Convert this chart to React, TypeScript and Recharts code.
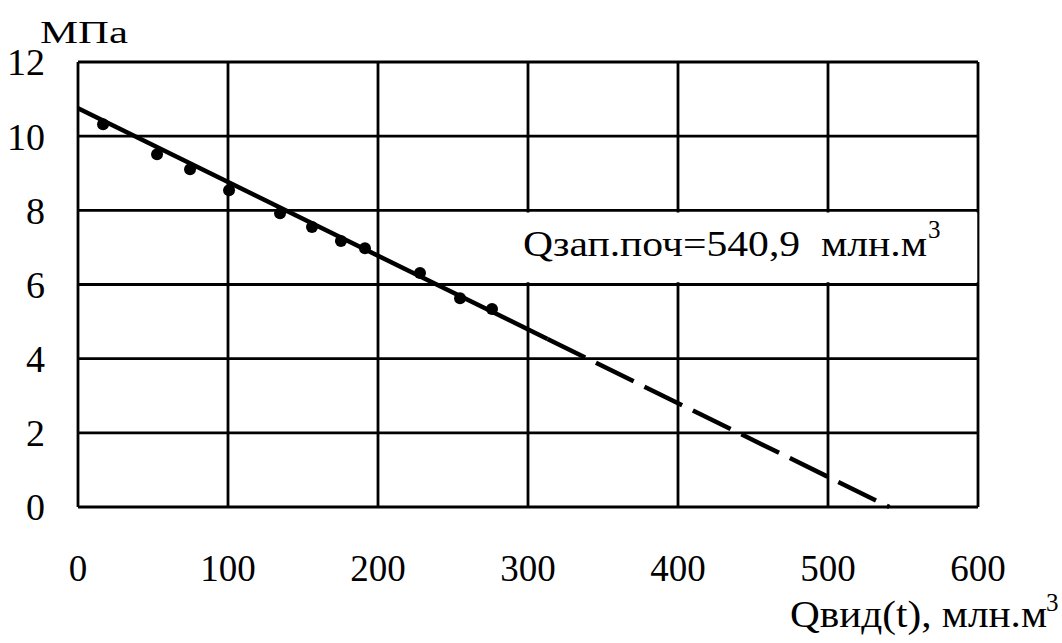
import { CartesianGrid, ComposedChart, Line, ReferenceArea, Scatter, XAxis, YAxis } from "recharts";

// Measured reservoir pressure vs cumulative gas production
const qMeasured = [16.7, 52.7, 74.7, 100.7, 134.7, 156, 175.3, 191.3, 228, 254.7, 276];
const pMeasured = [10.32, 9.51, 9.11, 8.54, 7.92, 7.55, 7.17, 6.98, 6.31, 5.63, 5.34];

// Fitted trend: solid over the measured range, dashed extrapolation to p = 0
const qFitSolid = [0, 313];
const pFitSolid = [10.75, 4.53];
const qFitDashed = [313, 540.9];
const pFitDashed = [4.53, 0];

const xTicks = [0, 100, 200, 300, 400, 500, 600];
const yTicks = [0, 2, 4, 6, 8, 10, 12];

const measured = qMeasured.map((q, i) => ({ q, p: pMeasured[i] }));
const fitSolid = qFitSolid.map((q, i) => ({ q, p: pFitSolid[i] }));
const fitDashed = qFitDashed.map((q, i) => ({ q, p: pFitDashed[i] }));

const FONT = '"Liberation Serif", "Times New Roman", serif';

export default function App() {
  return (
    <div style={{ position: "absolute", left: 0, top: 0, width: 1062, height: 643, background: "#fff" }}>
      <ComposedChart width={1062} height={643} margin={{ top: 62, right: 84, left: 0, bottom: 0 }}>
        <CartesianGrid stroke="#000" strokeWidth={2.8} />
        <XAxis
          dataKey="q"
          type="number"
          domain={[0, 600]}
          ticks={xTicks}
          height={136}
          axisLine={false}
          tickLine={false}
          tickSize={0}
          tickMargin={48}
          tick={{ fill: "#000", fontSize: 37, fontFamily: FONT }}
        />
        <YAxis
          dataKey="p"
          type="number"
          domain={[0, 12]}
          ticks={yTicks}
          width={78}
          axisLine={false}
          tickLine={false}
          tickSize={0}
          tickMargin={33}
          tick={{ fill: "#000", fontSize: 38, fontFamily: FONT }}
        />
        {/* blank panel behind the reserve estimate */}
        <ReferenceArea x1={250} x2={599.5} y1={6.06} y2={7.94} fill="#fff" fillOpacity={1} stroke="none" />
        <Line
          data={fitSolid}
          dataKey="p"
          stroke="#000"
          strokeWidth={4.5}
          dot={false}
          activeDot={false}
          isAnimationActive={false}
        />
        <Line
          data={fitDashed}
          dataKey="p"
          stroke="#000"
          strokeWidth={4.5}
          strokeDasharray="42 12"
          dot={false}
          activeDot={false}
          isAnimationActive={false}
        />
        <Scatter
          data={measured}
          dataKey="p"
          fill="#000"
          shape={(props: any) => <circle cx={props.cx} cy={props.cy} r={6} fill="#000" />}
          isAnimationActive={false}
        />
      </ComposedChart>
      <svg width={1062} height={643} style={{ position: "absolute", left: 0, top: 0, pointerEvents: "none" }}>
        <text x={40} y={43} fontSize={31} fontFamily={FONT} textLength={88} lengthAdjust="spacingAndGlyphs">МПа</text>
        <text x={523} y={256} fontSize={36} fontFamily={FONT} textLength={404} lengthAdjust="spacingAndGlyphs" style={{ whiteSpace: "pre" }}>
          Qзап.поч=540,9  млн.м
        </text>
        <text x={928} y={238} fontSize={25} fontFamily={FONT}>3</text>
        <text x={790} y={627} fontSize={38} fontFamily={FONT} textLength={257} lengthAdjust="spacingAndGlyphs">
          Qвид(t), млн.м
        </text>
        <text x={1046} y={611} fontSize={25} fontFamily={FONT}>3</text>
      </svg>
    </div>
  );
}
